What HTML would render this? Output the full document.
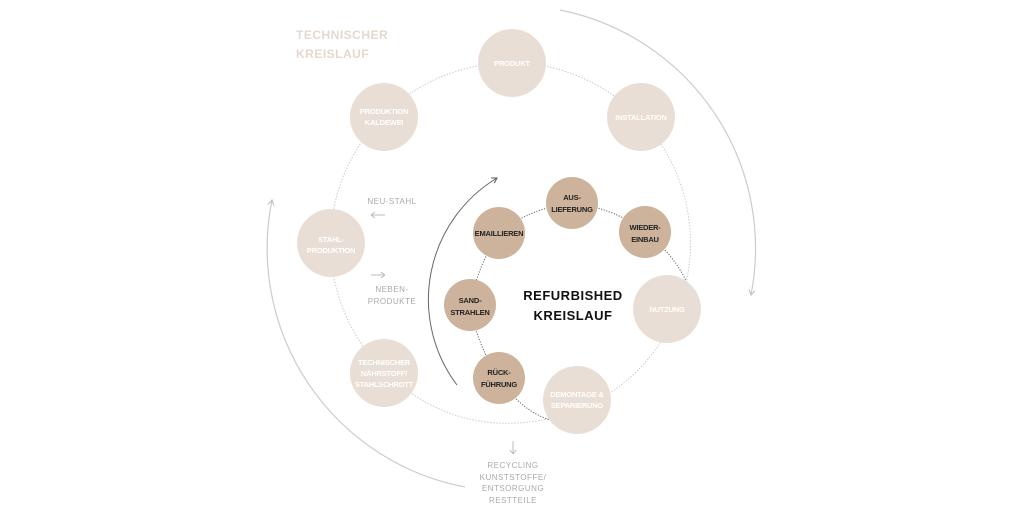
<!DOCTYPE html>
<html><head><meta charset="utf-8"><style>
body{margin:0;background:#fff;}
svg{display:block}
.b{fill:#e9ded5}
.s{fill:#cdb39b}
.bt{fill:#fff;font:bold 7.5px "Liberation Sans",sans-serif;text-anchor:middle;letter-spacing:-0.2px}
.st{fill:#222;font:bold 7.5px "Liberation Sans",sans-serif;text-anchor:middle;letter-spacing:-0.2px}
.g{fill:#aaa;font:8px "Liberation Sans",sans-serif;text-anchor:middle;letter-spacing:.5px}
</style></head><body>
<svg width="1024" height="512" viewBox="0 0 1024 512">
<defs>
<marker id="a" markerWidth="8" markerHeight="8" refX="6" refY="4" orient="auto" markerUnits="userSpaceOnUse"><path d="M1,1 L6,4 L1,7" fill="none" stroke="#bbb" stroke-width="1"/></marker>
<marker id="ad" markerWidth="8" markerHeight="8" refX="6" refY="4" orient="auto" markerUnits="userSpaceOnUse"><path d="M1,1 L6,4 L1,7" fill="none" stroke="#555" stroke-width="1"/></marker>
</defs>
<!-- outer dotted circle (partial) -->
<path d="M400,385 A180 180 0 1 1 560,416" fill="none" stroke="#ccc" stroke-width="1" stroke-dasharray="1.5 1.5"/>
<path d="M400,385 Q470,440 560,416" fill="none" stroke="#ccc" stroke-width="1" stroke-dasharray="1.5 1.5"/>
<!-- outer gray arcs -->
<path d="M560,10 A243 243 0 0 1 751,295" fill="none" stroke="#ccc" stroke-width="1.2" marker-end="url(#a)"/>
<path d="M465,487 A243 243 0 0 1 272,200" fill="none" stroke="#ccc" stroke-width="1.2" marker-end="url(#a)"/>
<!-- inner dark arc -->
<path d="M457,385 A142 142 0 0 1 497,178" fill="none" stroke="#666" stroke-width="1" marker-end="url(#ad)"/>
<!-- inner dotted connectors -->
<g fill="none" stroke="#666" stroke-width="1" stroke-dasharray="1.2 1.5">
<path d="M499,233 Q530,208 572,203"/>
<path d="M572,203 Q615,208 645,232"/>
<path d="M645,232 Q675,255 688,285"/>
<path d="M499,233 Q478,265 470,305"/>
<path d="M470,305 Q477,345 499,378"/>
<path d="M499,378 Q520,410 550,420"/>
</g>
<!-- big nodes -->
<circle class="b" cx="512" cy="63" r="34"/><text class="bt" x="512" y="66">PRODUKT</text>
<circle class="b" cx="641" cy="117" r="34"/><text class="bt" x="641" y="120">INSTALLATION</text>
<circle class="b" cx="384" cy="117" r="34"/><text class="bt" x="384" y="114">PRODUKTION</text><text class="bt" x="384" y="125">KALDEWEI</text>
<circle class="b" cx="331" cy="243" r="34"/><text class="bt" x="331" y="242">STAHL-</text><text class="bt" x="331" y="253">PRODUKTION</text>
<circle class="b" cx="667" cy="309" r="34"/><text class="bt" x="667" y="312">NUTZUNG</text>
<circle class="b" cx="384" cy="373" r="34"/><text class="bt" x="384" y="365">TECHNISCHER</text><text class="bt" x="384" y="376">NÄHRSTOFF/</text><text class="bt" x="384" y="387">STAHLSCHROTT</text>
<circle class="b" cx="577" cy="400" r="34"/><text class="bt" x="577" y="397">DEMONTAGE &amp;</text><text class="bt" x="577" y="408">SEPARIERUNG</text>
<!-- small nodes -->
<circle class="s" cx="572" cy="203" r="26"/><text class="st" x="572" y="200">AUS-</text><text class="st" x="572" y="212">LIEFERUNG</text>
<circle class="s" cx="645" cy="232" r="26"/><text class="st" x="645" y="230">WIEDER-</text><text class="st" x="645" y="242">EINBAU</text>
<circle class="s" cx="499" cy="233" r="26"/><text class="st" x="499" y="236">EMAILLIEREN</text>
<circle class="s" cx="470" cy="305" r="26"/><text class="st" x="470" y="303">SAND-</text><text class="st" x="470" y="315">STRAHLEN</text>
<circle class="s" cx="499" cy="378" r="26"/><text class="st" x="499" y="375">RÜCK-</text><text class="st" x="499" y="387">FÜHRUNG</text>
<!-- titles -->
<text x="296" y="39" style="font:bold 12px 'Liberation Sans',sans-serif;fill:#e6d8cc;letter-spacing:.5px">TECHNISCHER</text>
<text x="296" y="58" style="font:bold 12px 'Liberation Sans',sans-serif;fill:#e6d8cc;letter-spacing:.5px">KREISLAUF</text>
<text x="573" y="300" text-anchor="middle" style="font:bold 13px 'Liberation Sans',sans-serif;fill:#111;letter-spacing:.5px">REFURBISHED</text>
<text x="573" y="320" text-anchor="middle" style="font:bold 13px 'Liberation Sans',sans-serif;fill:#111;letter-spacing:.5px">KREISLAUF</text>
<!-- gray labels -->
<text class="g" x="392" y="204">NEU-STAHL</text>
<path d="M371,215 H385 M371,215 l4,-3 M371,215 l4,3" stroke="#bbb" fill="none"/>
<path d="M371,275 H385 M385,275 l-4,-3 M385,275 l-4,3" stroke="#bbb" fill="none"/>
<text class="g" x="392" y="292">NEBEN-</text>
<text class="g" x="392" y="304">PRODUKTE</text>
<path d="M513,441 V454 M513,454 l-3,-4 M513,454 l3,-4" stroke="#bbb" fill="none"/>
<text class="g" x="513" y="468">RECYCLING</text>
<text class="g" x="513" y="480">KUNSTSTOFFE/</text>
<text class="g" x="513" y="491">ENTSORGUNG</text>
<text class="g" x="513" y="503">RESTTEILE</text>
</svg>
</body></html>
